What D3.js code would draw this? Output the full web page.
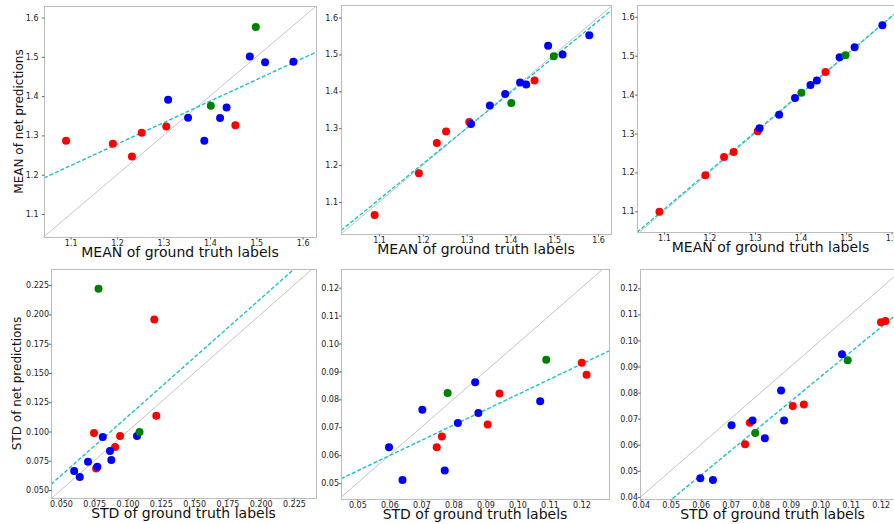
<!DOCTYPE html>
<html>
<head>
<meta charset="utf-8">
<script src="https://cdn.jsdelivr.net/npm/d3@7"></script>
<style>
body { margin: 0; background: #fff; }
svg { display: block; font-family: "DejaVu Sans", sans-serif; }
</style>
</head>
<body>
<script>
// ground truth values (shared by the three panels of a row)
const meanTruth = [1.090, 1.191, 1.232, 1.253, 1.306, 1.310, 1.353, 1.388, 1.402, 1.422, 1.436, 1.455, 1.486, 1.499, 1.519, 1.580];
const meanGroup = ['r', 'r', 'r', 'r', 'r', 'b', 'b', 'b', 'g', 'b', 'b', 'r', 'b', 'g', 'b', 'b'];
const meanPredLeft = [1.2864, 1.2788, 1.2466, 1.3068, 1.3229, 1.3907, 1.3449, 1.2864, 1.3754, 1.344, 1.371, 1.326, 1.5008, 1.576, 1.4864, 1.4873];
const meanPredMid = [1.0648, 1.1776, 1.2597, 1.2913, 1.3166, 1.3112, 1.3617, 1.3924, 1.368, 1.424, 1.4186, 1.4294, 1.5233, 1.4953, 1.4998, 1.5522];
const meanPredRight = [1.099, 1.1925, 1.2397, 1.2525, 1.3057, 1.3134, 1.3485, 1.3913, 1.405, 1.4248, 1.436, 1.458, 1.4959, 1.501, 1.5216, 1.578];

const stdTruth = [0.0599, 0.0641, 0.0703, 0.0748, 0.0764, 0.0773, 0.0782, 0.0814, 0.0868, 0.0878, 0.0907, 0.0944, 0.1071, 0.1090, 0.1201, 0.1216];
const stdGroup = ['b', 'b', 'b', 'r', 'r', 'b', 'g', 'b', 'b', 'b', 'r', 'r', 'b', 'g', 'r', 'r'];
const stdPredLeft = [0.0662, 0.0611, 0.0742, 0.0987, 0.0685, 0.0699, 0.2219, 0.0952, 0.0833, 0.0756, 0.0867, 0.0961, 0.0961, 0.0995, 0.1957, 0.1135];
const stdPredMid = [0.0628, 0.0511, 0.0763, 0.0628, 0.0667, 0.0545, 0.0823, 0.0715, 0.0861, 0.0751, 0.0710, 0.0821, 0.0793, 0.0942, 0.0931, 0.0888];
const stdPredRight = [0.0472, 0.0465, 0.0675, 0.0602, 0.0684, 0.0693, 0.0645, 0.0625, 0.0808, 0.0693, 0.0749, 0.0754, 0.0947, 0.0924, 0.1070, 0.1075];

const meanTicks = [1.1, 1.2, 1.3, 1.4, 1.5, 1.6];
const stdTicksWide = [0.050, 0.075, 0.100, 0.125, 0.150, 0.175, 0.200, 0.225];
const stdTicksMid = [0.05, 0.06, 0.07, 0.08, 0.09, 0.10, 0.11, 0.12];
const stdTicksRight = [0.04, 0.05, 0.06, 0.07, 0.08, 0.09, 0.10, 0.11, 0.12];

const colorMap = { r: '#ff0000', b: '#0000ff', g: '#008000' };

const svgSize = { width: 894, height: 524 };

const svg = d3.select('body')
    .append('svg')
    .attr('width', svgSize.width)
    .attr('height', svgSize.height);

const panels = [
    { box: [44, 6, 316, 237], xd: [1.0425, 1.6287], yd: [1.0415, 1.6293], truth: meanTruth, pred: meanPredLeft, group: meanGroup,
      xt: meanTicks, yt: meanTicks, fmt: '.1f', ypad: 3.5, xlabel: 'MEAN of ground truth labels', ylabel: 'MEAN of net predictions', ylx: 23 },
    { box: [341, 5, 611, 234], xd: [1.0132, 1.6296], yd: [1.0133, 1.6339], truth: meanTruth, pred: meanPredMid, group: meanGroup,
      xt: meanTicks, yt: meanTicks, fmt: '.1f', ypad: 1, xlabel: 'MEAN of ground truth labels' },
    { box: [637, 5, 904, 232], xd: [1.0407, 1.6275], yd: [1.0468, 1.6303], truth: meanTruth, pred: meanPredRight, group: meanGroup,
      xt: meanTicks, yt: meanTicks, fmt: '.1f', ypad: 0.5, xlabel: 'MEAN of ground truth labels' },
    { box: [51, 269, 316, 498], xd: [0.0425, 0.2416], yd: [0.0432, 0.2388], truth: stdTruth, pred: stdPredLeft, group: stdGroup,
      xt: stdTicksWide, yt: stdTicksWide, fmt: '.3f', ypad: 0, xlabel: 'STD of ground truth labels', ylabel: 'STD of net predictions', ylx: 21 },
    { box: [341, 269, 609, 499], xd: [0.0449, 0.1286], yd: [0.0443, 0.1267], truth: stdTruth, pred: stdPredMid, group: stdGroup,
      xt: stdTicksMid, yt: stdTicksMid, fmt: '.2f', ypad: 0, xlabel: 'STD of ground truth labels' },
    { box: [640, 269, 905, 499], xd: [0.0398, 0.1281], yd: [0.0392, 0.1274], truth: stdTruth, pred: stdPredRight, group: stdGroup,
      xt: stdTicksRight, yt: stdTicksRight, fmt: '.2f', ypad: 0, xlabel: 'STD of ground truth labels' }
];

// least squares fit of pred on truth
function fitLine(xs, ys) {
    const mx = d3.mean(xs), my = d3.mean(ys);
    let sxy = 0, sxx = 0;
    xs.forEach((x, i) => {
        sxy += (x - mx) * (ys[i] - my);
        sxx += (x - mx) * (x - mx);
    });
    const slope = sxy / sxx;
    return x => my + slope * (x - mx);
}

const drawOrder = ['r', 'b', 'g'];

panels.forEach((p, k) => {
    const [x0, y0, x1, y1] = p.box;
    const x = d3.scaleLinear().domain(p.xd).range([x0, x1]);
    const y = d3.scaleLinear().domain(p.yd).range([y1, y0]);

    const clipId = 'clip' + k;
    svg.append('clipPath').attr('id', clipId)
        .append('rect')
        .attr('x', x0).attr('y', y0)
        .attr('width', x1 - x0).attr('height', y1 - y0);

    const plot = svg.append('g').attr('clip-path', `url(#${clipId})`);

    // identity line
    const lo = Math.max(p.xd[0], p.yd[0]);
    const hi = Math.min(p.xd[1], p.yd[1]);
    plot.append('line')
        .attr('x1', x(lo)).attr('y1', y(lo))
        .attr('x2', x(hi)).attr('y2', y(hi))
        .attr('stroke', '#c4c4c4')
        .attr('stroke-width', 1);

    // regression line
    const f = fitLine(p.truth, p.pred);
    plot.append('line')
        .attr('x1', x(p.xd[0])).attr('y1', y(f(p.xd[0])))
        .attr('x2', x(p.xd[1])).attr('y2', y(f(p.xd[1])))
        .attr('stroke', '#1cc2c6')
        .attr('stroke-width', 1.4)
        .attr('stroke-dasharray', '4,2');

    const pts = p.truth.map((t, i) => ({ t: t, v: p.pred[i], g: p.group[i] }))
        .sort((a, b) => drawOrder.indexOf(a.g) - drawOrder.indexOf(b.g));

    plot.selectAll('circle')
        .data(pts)
        .enter()
        .append('circle')
        .attr('cx', d => x(d.t))
        .attr('cy', d => y(d.v))
        .attr('r', 4)
        .attr('fill', d => colorMap[d.g]);

    // frame
    svg.append('rect')
        .attr('x', x0 + 0.5).attr('y', y0 + 0.5)
        .attr('width', x1 - x0).attr('height', y1 - y0)
        .attr('fill', 'none')
        .attr('stroke', '#bcbcbc')
        .attr('stroke-width', 1);

    const xAxis = d3.axisBottom(x)
        .tickValues(p.xt)
        .tickFormat(d3.format(p.fmt))
        .tickSize(2)
        .tickPadding(0.5);
    const gx = svg.append('g')
        .attr('transform', `translate(0, ${y1 + 0.5})`)
        .call(xAxis);

    const yAxis = d3.axisLeft(y)
        .tickValues(p.yt)
        .tickFormat(d3.format(p.fmt))
        .tickSize(2.5)
        .tickPadding(p.ypad);
    const gy = svg.append('g')
        .attr('transform', `translate(${x0 + 0.5}, 0)`)
        .call(yAxis);

    [gx, gy].forEach(g => {
        g.select('.domain').remove();
        g.selectAll('.tick line').attr('stroke', '#666');
        g.selectAll('.tick text')
            .attr('fill', '#222')
            .style('font-size', '8px')
            .style('font-family', '"DejaVu Sans", sans-serif');
    });

    svg.append('text')
        .attr('x', (x0 + x1) / 2)
        .attr('y', y1 + 19.5)
        .attr('text-anchor', 'middle')
        .attr('fill', '#111')
        .style('font-size', '14px')
        .text(p.xlabel);

    if (p.ylabel) {
        svg.append('text')
            .attr('transform', `translate(${p.ylx}, ${(y0 + y1) / 2}) rotate(-90)`)
            .attr('text-anchor', 'middle')
            .attr('fill', '#111')
            .style('font-size', '12px')
            .text(p.ylabel);
    }
});
</script>
</body>
</html>
